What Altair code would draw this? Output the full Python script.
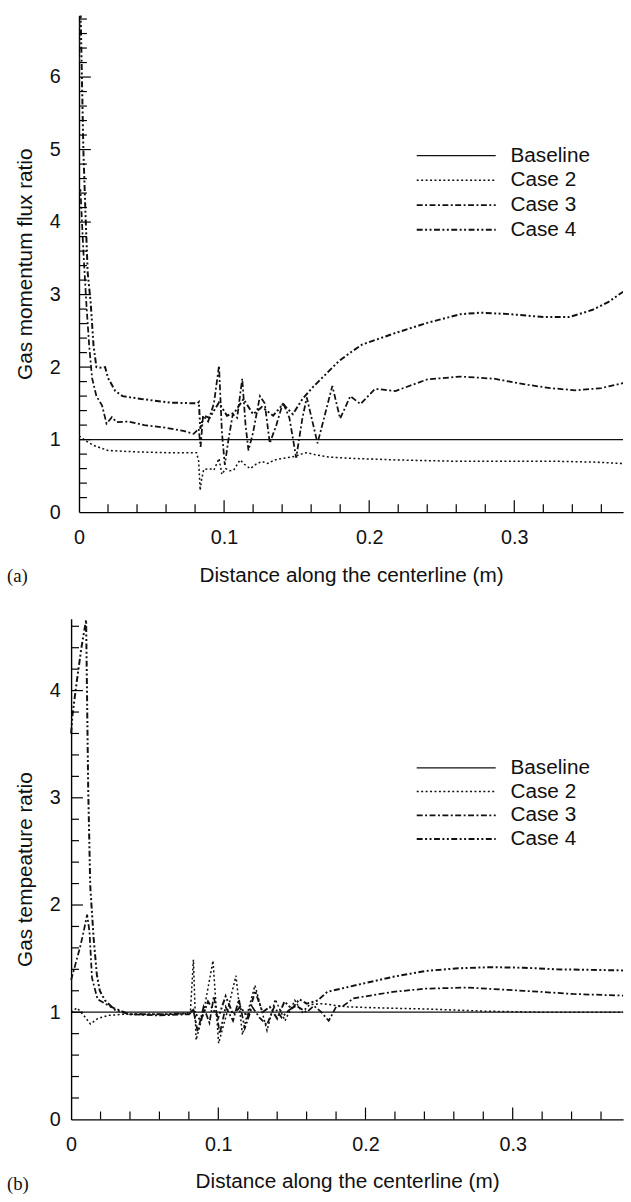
import altair as alt
import pandas as pd

SERIES = ["Baseline", "Case 2", "Case 3", "Case 4"]
DASHES = [[1, 0], [2, 2.5], [6, 2.5, 2, 2.5], [6, 2.5, 2, 2.5, 2, 2.5]]
WIDTHS = [1.3, 2.0, 1.8, 1.8]

X_LABELS = [0, 0.1, 0.2, 0.3]
X_MAJOR = [0.1, 0.2, 0.3]
X_MINOR = [0.02, 0.04, 0.06, 0.08, 0.12, 0.14, 0.16, 0.18, 0.22, 0.24, 0.26, 0.28, 0.32, 0.34, 0.36]

# ---------------- panel (a): gas momentum flux ratio ----------------
a_base_x = [0, 0.375]
a_base_y = [1, 1]
a_case2_x = [0, 0.005, 0.01, 0.02, 0.04, 0.06, 0.081, 0.0825, 0.0835, 0.0845, 0.086, 0.09, 0.093,
             0.0965, 0.0985, 0.101, 0.104, 0.1066, 0.111, 0.114, 0.118, 0.122, 0.126, 0.13, 0.135,
             0.143, 0.149, 0.153, 0.157, 0.163, 0.172, 0.19, 0.218, 0.24, 0.263, 0.3, 0.331, 0.355, 0.375]
a_case2_y = [1.05, 0.98, 0.92, 0.85, 0.83, 0.82, 0.82, 0.7, 0.3, 0.45, 0.59, 0.6, 0.58,
             0.74, 0.52, 0.6, 0.57, 0.58, 0.72, 0.66, 0.6, 0.66, 0.7, 0.67, 0.72,
             0.75, 0.77, 0.8, 0.82, 0.79, 0.76, 0.74, 0.72, 0.71, 0.70, 0.70, 0.70, 0.69, 0.67]
a_case3_x = [0, 0.001, 0.003, 0.005, 0.007, 0.009, 0.012, 0.0159, 0.019, 0.0227, 0.026, 0.034, 0.045,
             0.061, 0.072, 0.079, 0.0825, 0.0838, 0.0855, 0.089, 0.093, 0.0965, 0.0985, 0.1005, 0.103,
             0.106, 0.109, 0.1125, 0.1148, 0.1168, 0.12, 0.1247, 0.128, 0.1315, 0.136, 0.1406, 0.145,
             0.1497, 0.154, 0.157, 0.1644, 0.1746, 0.18, 0.187, 0.194, 0.204, 0.218, 0.24, 0.263,
             0.286, 0.308, 0.325, 0.342, 0.36, 0.375]
a_case3_y = [4.4, 4.45, 3.6, 2.9, 2.3, 1.85, 1.6, 1.47, 1.22, 1.31, 1.24, 1.25, 1.2,
             1.16, 1.12, 1.08, 1.15, 0.9, 1.33, 1.25, 1.5, 2.02, 1.1, 0.65, 1.0,
             1.35, 1.3, 1.84, 1.2, 0.85, 1.1, 1.6, 1.5, 0.95, 1.2, 1.51, 1.3,
             0.75, 1.3, 1.58, 0.95, 1.74, 1.29, 1.6, 1.49, 1.70, 1.67, 1.83, 1.87,
             1.84, 1.76, 1.71, 1.68, 1.71, 1.78]
a_case4_x = [0, 0.0005, 0.0015, 0.003, 0.0045, 0.006, 0.008, 0.01, 0.012, 0.0159, 0.018, 0.02, 0.025,
             0.03, 0.043, 0.063, 0.0816, 0.0826, 0.0836, 0.086, 0.09, 0.0964, 0.102, 0.107, 0.1134,
             0.12, 0.126, 0.1338, 0.1406, 0.1474, 0.154, 0.161, 0.17, 0.179, 0.187, 0.195, 0.218,
             0.24, 0.263, 0.277, 0.297, 0.32, 0.338, 0.354, 0.365, 0.375]
a_case4_y = [6.2, 7.5, 6.5, 5.0, 4.1, 3.3, 2.9, 2.3, 2.0, 1.99, 2.0, 1.85, 1.67,
             1.6, 1.56, 1.51, 1.5, 1.52, 1.15, 1.33, 1.3, 1.51, 1.33, 1.37, 1.56,
             1.35, 1.45, 1.33, 1.49, 1.35, 1.56, 1.72, 1.9, 2.08, 2.2, 2.31, 2.47,
             2.61, 2.73, 2.75, 2.73, 2.69, 2.69, 2.79, 2.9, 3.04]
a_y_labels = [0, 1, 2, 3, 4, 5, 6]
a_y_major = [1, 2, 3, 4, 5, 6]
a_y_minor = [0.2, 0.4, 0.6, 0.8, 1.2, 1.4, 1.6, 1.8, 2.2, 2.4, 2.6, 2.8, 3.2, 3.4, 3.6, 3.8,
             4.2, 4.4, 4.6, 4.8, 5.2, 5.4, 5.6, 5.8, 6.2, 6.4, 6.6, 6.8]

# ---------------- panel (b): gas temperature ratio ----------------
b_base_x = [0, 0.375]
b_base_y = [1, 1]
b_case2_x = [0, 0.004, 0.008, 0.0131, 0.018, 0.025, 0.035, 0.05, 0.07, 0.081, 0.0831, 0.0849, 0.09,
             0.0964, 0.1002, 0.106, 0.112, 0.1164, 0.12, 0.1249, 0.1331, 0.1387, 0.1453, 0.152, 0.157,
             0.162, 0.17, 0.1876, 0.21, 0.241, 0.28, 0.32, 0.375]
b_case2_y = [1.0, 1.04, 0.98, 0.89, 0.94, 0.97, 0.98, 0.98, 0.98, 0.99, 1.49, 0.74, 1.0,
             1.48, 0.71, 1.0, 1.34, 0.79, 1.0, 1.25, 0.83, 1.12, 0.92, 1.11, 1.0,
             1.07, 1.08, 1.05, 1.04, 1.03, 1.01, 1.0, 1.0]
b_case3_x = [0, 0.003, 0.006, 0.0085, 0.0109, 0.0125, 0.0142, 0.018, 0.027, 0.04, 0.06, 0.08, 0.083,
             0.086, 0.09, 0.094, 0.097, 0.101, 0.105, 0.11, 0.114, 0.118, 0.123, 0.128, 0.133, 0.138,
             0.143, 0.148, 0.153, 0.16, 0.165, 0.17, 0.175, 0.18, 0.185, 0.192, 0.2187, 0.241, 0.27,
             0.3076, 0.341, 0.375]
b_case3_y = [1.3, 1.45, 1.6, 1.75, 1.91, 1.75, 1.32, 1.12, 1.05, 0.98, 0.97, 0.98, 1.02,
             0.82, 1.05, 0.9, 1.15, 0.8, 1.05, 0.92, 1.12, 0.85, 1.05, 0.95, 0.88, 1.05,
             0.95, 1.02, 1.06, 1.0, 1.06, 1.0, 0.92, 1.05, 1.06, 1.13, 1.19, 1.22, 1.23,
             1.2, 1.17, 1.155]
b_case4_x = [0, 0.001, 0.004, 0.007, 0.0102, 0.0116, 0.013, 0.0153, 0.0175, 0.0195, 0.023, 0.03, 0.04,
             0.06, 0.08, 0.083, 0.088, 0.093, 0.1, 0.105, 0.11, 0.115, 0.12, 0.125, 0.13, 0.135,
             0.14, 0.145, 0.15, 0.155, 0.16, 0.1676, 0.174, 0.196, 0.2187, 0.241, 0.263, 0.285,
             0.3076, 0.33, 0.375]
b_case4_y = [3.6, 3.78, 4.1, 4.4, 4.66, 3.1, 2.18, 1.69, 1.35, 1.2, 1.11, 1.02, 0.98,
             0.98, 0.99, 1.02, 0.92, 1.1, 0.95, 1.15, 0.98, 1.05, 0.95, 1.2, 1.0, 1.05,
             0.94, 1.1, 1.03, 1.12, 1.08, 1.11, 1.19, 1.26, 1.33, 1.385, 1.41, 1.42,
             1.415, 1.40, 1.39]
b_y_labels = [0, 1, 2, 3, 4]
b_y_major = [1, 2, 3, 4]
b_y_minor = [0.2, 0.4, 0.6, 0.8, 1.2, 1.4, 1.6, 1.8, 2.2, 2.4, 2.6, 2.8, 3.2, 3.4, 3.6, 3.8,
             4.2, 4.4, 4.6]

FONT = "Liberation Sans"
INK = "#111111"
LABEL_SIZE = 20
TITLE_SIZE = 21
VIEW_W = 551


def long_frame(xs_list, ys_list):
    frames = []
    for name, xs, ys in zip(SERIES, xs_list, ys_list):
        frames.append(pd.DataFrame({"x": xs, "y": ys, "series": name}))
    return pd.concat(frames, ignore_index=True)


def panel(df, ymax, y_labels, y_major, y_minor, height, ytitle, tag,
          ylab_pad, xlab_pad, leg_rows, shift, clip):
    # shift: how many pixels the plot's left edge sits left of the shared view origin
    xscale = alt.Scale(domain=[0, 0.375], nice=False, zero=False, range=[-shift, VIEW_W])
    yscale = alt.Scale(domain=[0, ymax], nice=False, zero=False)
    dash = alt.StrokeDash("series:N", scale=alt.Scale(domain=SERIES, range=DASHES), legend=None)
    sw = alt.StrokeWidth("series:N", scale=alt.Scale(domain=SERIES, range=WIDTHS), legend=None)

    y_axis = dict(values=y_labels, format="d", ticks=False, grid=False,
                  labelFont=FONT, labelFontSize=LABEL_SIZE, labelColor="#111",
                  labelPadding=ylab_pad, domainColor="#000", domainWidth=1.4,
                  title=ytitle, titleFont=FONT, titleFontSize=TITLE_SIZE,
                  titleFontWeight="normal", titleColor="#111", titlePadding=14,
                  labelFlush=False)
    if shift:
        y_axis["offset"] = shift

    lines = alt.Chart(df).mark_line(clip=clip, color=INK).encode(
        x=alt.X("x:Q", scale=xscale,
                axis=alt.Axis(values=X_LABELS, format="~g", ticks=False, grid=False,
                              labelFont=FONT, labelFontSize=LABEL_SIZE, labelColor="#111",
                              labelPadding=xlab_pad, domainColor="#000", domainWidth=1.4,
                              title="Distance along the centerline (m)", titleFont=FONT,
                              titleFontSize=TITLE_SIZE, titleFontWeight="normal", titleColor="#111",
                              titlePadding=17, labelFlush=False)),
        y=alt.Y("y:Q", scale=yscale, axis=alt.Axis(**y_axis)),
        strokeDash=dash,
        strokeWidth=sw,
        order=alt.Order("x:Q"),
    )

    xmaj = alt.Chart(pd.DataFrame({"t": X_MAJOR})).mark_rule(color="#000", strokeWidth=1.2).encode(
        x=alt.X("t:Q", scale=xscale), y=alt.value(height), y2=alt.value(height - 12))
    xmin = alt.Chart(pd.DataFrame({"t": X_MINOR})).mark_rule(color="#000", strokeWidth=1.2).encode(
        x=alt.X("t:Q", scale=xscale), y=alt.value(height), y2=alt.value(height - 8))
    ymaj = alt.Chart(pd.DataFrame({"t": y_major})).mark_rule(color="#000", strokeWidth=1.2).encode(
        y=alt.Y("t:Q", scale=yscale), x=alt.value(-shift), x2=alt.value(12 - shift))
    ymin = alt.Chart(pd.DataFrame({"t": y_minor})).mark_rule(color="#000", strokeWidth=1.2).encode(
        y=alt.Y("t:Q", scale=yscale), x=alt.value(-shift), x2=alt.value(8 - shift))

    main = alt.layer(lines, xmaj, xmin, ymaj, ymin)

    leg_x = 342
    leg_df = pd.DataFrame({"series": SERIES})
    leg_y = alt.Y("series:N", scale=alt.Scale(type="point", domain=SERIES, range=leg_rows, padding=0),
                  axis=None)
    leg_lines = alt.Chart(leg_df).mark_rule(color=INK).encode(
        y=leg_y, x=alt.value(leg_x), x2=alt.value(leg_x + 80), strokeDash=dash, strokeWidth=sw)
    leg_text = alt.Chart(leg_df).mark_text(align="left", baseline="middle", font=FONT,
                                           fontSize=TITLE_SIZE, color="#111").encode(
        y=leg_y, x=alt.value(leg_x + 95), text="series:N")
    tag_text = alt.Chart(pd.DataFrame({"tag": [tag]})).mark_text(
        align="left", baseline="middle", font="Liberation Serif", fontSize=19, color="#111").encode(
        x=alt.value(-73), y=alt.value(height + 65), text="tag:N")
    legend = alt.layer(leg_lines, leg_text, tag_text)

    return alt.layer(main, legend).resolve_scale(y="independent").properties(
        width=VIEW_W, height=height)


top = panel(long_frame([a_base_x, a_case2_x, a_case3_x, a_case4_x],
                       [a_base_y, a_case2_y, a_case3_y, a_case4_y]),
            6.85, a_y_labels, a_y_major, a_y_minor, 503,
            "Gas momentum flux ratio", "(a)", 19, 16, [142, 217], 0, True)
bottom = panel(long_frame([b_base_x, b_case2_x, b_case3_x, b_case4_x],
                          [b_base_y, b_case2_y, b_case3_y, b_case4_y]),
               4.67, b_y_labels, b_y_major, b_y_minor, 507,
               "Gas tempeature ratio", "(b)", 11, 15, [151, 223], 8, False)

chart = alt.vconcat(top, bottom, spacing=30).properties(
    padding={"left": 7, "top": 8, "right": 0, "bottom": 0},
    background="white",
).configure_view(stroke=None)

chart.save("out.html", embed_options={"renderer": "svg", "actions": False})
